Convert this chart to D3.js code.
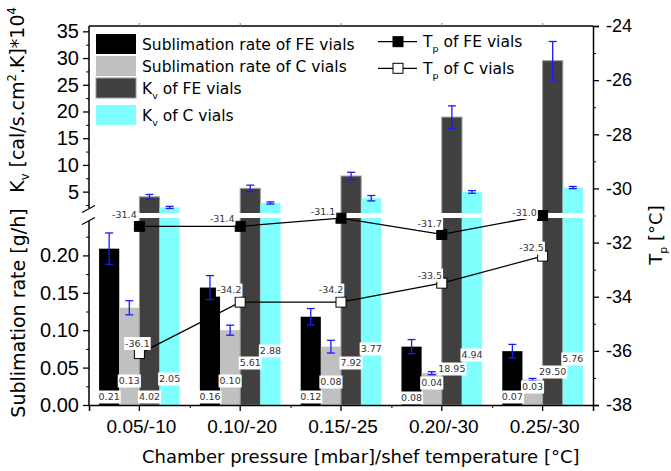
<!DOCTYPE html>
<html>
<head>
<meta charset="utf-8">
<script src="https://cdn.jsdelivr.net/npm/d3@7/dist/d3.min.js"></script>
<style>
  body { margin: 0; background: #fff; }
  svg { font-family: "DejaVu Sans", Verdana, sans-serif; display: block; }
</style>
</head>
<body>
<div id="chart"></div>
<script>
// chart data
var categories = ["0.05/-10", "0.10/-20", "0.15/-25", "0.20/-30", "0.25/-30"];

var rateFE    = [0.209, 0.157, 0.118, 0.078, 0.072];
var rateFEErr = [0.021, 0.016, 0.011, 0.0095, 0.009];
var rateC     = [0.130, 0.100, 0.078, 0.0425, 0.034];
var rateCErr  = [0.0094, 0.0067, 0.0085, 0.002, 0.0015];

var kvFE    = [4.02, 5.61, 7.92, 18.95, 29.50];
var kvFEErr = [0.45, 0.6, 0.7, 2.1, 3.6];
var kvC     = [2.05, 2.88, 3.77, 4.94, 5.76];
var kvCErr  = [0.2, 0.2, 0.5, 0.25, 0.2];

var tpFE = [-31.4, -31.4, -31.1, -31.7, -31.0];
var tpC  = [-36.1, -34.2, -34.2, -33.5, -32.5];

var kvTicks = [5, 10, 15, 20, 25, 30, 35];
var rateTicks = [0, 0.05, 0.10, 0.15, 0.20];
var tpTicks = [-38, -36, -34, -32, -30, -28, -26, -24];

// layout
var width = 671, height = 471,
    plot = {left: 89, right: 593, top: 26, bottom: 405},
    brk = {upper: 213, lower: 218};

// where the value labels sit (px above the x axis), placed by hand in the original
var labelLift = {
    rateFE: [8, 8, 8, 7, 8],
    rateC: [24, 24, 23, 22, 18],
    kvFE: [8, 42, 42, 36, 33],
    kvC: [26, 54, 56, 50, 46]
};
// Tp label centre relative to its marker
var tpFEShift = [[-15, -12], [-18, -8], [-18, -7], [-12, -11], [-18, -3]];
var tpCShift  = [[-2, -10], [-11, -12], [-10, -12], [-12, -8], [-11, -8]];

// plain hyphen instead of the unicode minus d3 puts in
function hyphen(f) {
    return function(d) { return f(d).replace("\u2212", "-"); };
}

var svg = d3.select("#chart").append("svg")
    .attr("width", width)
    .attr("height", height);

// scales
var x = d3.scaleBand().domain(categories).range([plot.left, plot.right]);
var bw = x.bandwidth();
var xs = d3.scaleBand()
    .domain(["rateFE", "rateC", "kvFE", "kvC"])
    .range([0.1 * bw, 0.9 * bw]);
var xMinor = d3.scaleLinear().domain([0, categories.length]).range([plot.left, plot.right]);

var yKv = d3.scaleLinear().domain([1, 36]).range([brk.upper, plot.top]);
var yRate = d3.scaleLinear().domain([0, 0.25]).range([plot.bottom, brk.lower]);
var yT = d3.scaleLinear().domain([-38, -24]).range([plot.bottom, plot.top]);

var series = [
    {key: "rateFE", vals: rateFE, err: rateFEErr, color: "#000000", y: yRate},
    {key: "rateC", vals: rateC, err: rateCErr, color: "#c0c0c0", y: yRate},
    {key: "kvFE", vals: kvFE, err: kvFEErr, color: "#404040", y: yKv, stroke: "#9a9a9a"},
    {key: "kvC", vals: kvC, err: kvCErr, color: "#80ffff", y: yKv}
];

// bars
var barG = svg.append("g");
series.forEach(function(s) {
    barG.selectAll(null)
        .data(s.vals)
        .enter()
        .append("rect")
        .attr("x", (d, i) => x(categories[i]) + xs(s.key))
        .attr("width", xs.bandwidth())
        .attr("y", d => s.y(d))
        .attr("height", d => plot.bottom - s.y(d))
        .attr("fill", s.color)
        .attr("stroke", s.stroke || "none")
        .attr("stroke-width", 1);
});

// white gap where the left axis is broken
svg.append("rect")
    .attr("x", plot.left + 1)
    .attr("width", plot.right - plot.left - 2)
    .attr("y", brk.upper)
    .attr("height", brk.lower - brk.upper)
    .attr("fill", "#fff");

// error bars
var errG = svg.append("g").attr("stroke", "#1a1aff").attr("stroke-width", 1.3);
series.forEach(function(s) {
    s.vals.forEach(function(v, i) {
        var cx = x(categories[i]) + xs(s.key) + xs.bandwidth() / 2,
            y1 = s.y(v + s.err[i]),
            y2 = s.y(v - s.err[i]);
        errG.append("line").attr("x1", cx).attr("x2", cx).attr("y1", y1).attr("y2", y2);
        errG.append("line").attr("x1", cx - 4).attr("x2", cx + 4).attr("y1", y1).attr("y2", y1);
        errG.append("line").attr("x1", cx - 4).attr("x2", cx + 4).attr("y1", y2).attr("y2", y2);
    });
});

// value labels with white boxes
function boxedLabel(g, tx, ty, str) {
    var grp = g.append("g");
    var rect = grp.append("rect").attr("fill", "#fff");
    var t = grp.append("text")
        .attr("x", tx)
        .attr("y", ty)
        .attr("dy", "0.35em")
        .attr("text-anchor", "middle")
        .attr("font-size", 9.5)
        .attr("fill", "#333")
        .text(str);
    var b = t.node().getBBox();
    rect.attr("x", b.x - 1).attr("y", ty - 6.5).attr("width", b.width + 2).attr("height", 13);
}

var labG = svg.append("g");
series.forEach(function(s) {
    s.vals.forEach(function(v, i) {
        var cx = x(categories[i]) + xs(s.key) + xs.bandwidth() / 2;
        boxedLabel(labG, cx, plot.bottom - labelLift[s.key][i], d3.format(".2f")(v));
    });
});

// Tp lines
var line = d3.line()
    .x((d, i) => x(categories[i]) + bw / 2)
    .y(d => yT(d));

[{vals: tpFE, fill: "#000", shift: tpFEShift}, {vals: tpC, fill: "#fff", shift: tpCShift}].forEach(function(s) {
    svg.append("path")
        .attr("d", line(s.vals))
        .attr("fill", "none")
        .attr("stroke", "#000")
        .attr("stroke-width", 1.3);
    svg.selectAll(null)
        .data(s.vals)
        .enter()
        .append("rect")
        .attr("x", (d, i) => x(categories[i]) + bw / 2 - 5)
        .attr("y", d => yT(d) - 5)
        .attr("width", 10)
        .attr("height", 10)
        .attr("fill", s.fill)
        .attr("stroke", "#000")
        .attr("stroke-width", 1);
    s.vals.forEach(function(v, i) {
        var cx = x(categories[i]) + bw / 2;
        boxedLabel(svg, cx + s.shift[i][0], yT(v) + s.shift[i][1], hyphen(d3.format(".1f"))(v));
    });
});

// axes
var fontSize = 18;

// frame top
svg.append("line")
    .attr("x1", plot.left).attr("x2", plot.right)
    .attr("y1", plot.top).attr("y2", plot.top)
    .attr("stroke", "#000").attr("stroke-width", 1.3);

svg.append("g")
    .attr("transform", "translate(0," + plot.bottom + ")")
    .call(d3.axisBottom(x).tickSize(6).tickPadding(9))
    .call(g => g.select(".domain").attr("stroke-width", 1.5))
    .call(g => g.selectAll("line").attr("stroke-width", 1.3))
    .call(g => g.selectAll("text").attr("font-size", 19).attr("font-family", null).attr("dx", 2));

svg.append("g")
    .attr("transform", "translate(0," + plot.bottom + ")")
    .call(d3.axisBottom(xMinor).tickValues([1, 2, 3, 4]).tickSize(3).tickFormat(""))
    .call(g => g.select(".domain").remove());

// small marks on the top edge
svg.append("g")
    .attr("transform", "translate(0," + plot.top + ")")
    .call(d3.axisTop(x).tickSize(3).tickFormat(""))
    .call(g => g.select(".domain").remove())
    .call(g => g.selectAll("line").attr("stroke", "#777"));

// left axis, upper part (Kv)
svg.append("g")
    .attr("transform", "translate(" + plot.left + ",0)")
    .call(d3.axisLeft(yKv).tickValues(kvTicks).tickSize(6).tickPadding(4))
    .call(g => g.select(".domain").remove())
    .call(g => g.selectAll("line").attr("stroke-width", 1.3))
    .call(g => g.selectAll("text").attr("font-size", 20).attr("font-family", null));
svg.append("g")
    .attr("transform", "translate(" + plot.left + ",0)")
    .call(d3.axisLeft(yKv).tickValues([2.5, 7.5, 12.5, 17.5, 22.5, 27.5, 32.5]).tickSize(3).tickFormat(""))
    .call(g => g.select(".domain").remove());

// left axis, lower part (sublimation rate)
svg.append("g")
    .attr("transform", "translate(" + plot.left + ",0)")
    .call(d3.axisLeft(yRate).tickValues(rateTicks).tickSize(6).tickPadding(4).tickFormat(d3.format(".2f")))
    .call(g => g.select(".domain").remove())
    .call(g => g.selectAll("line").attr("stroke-width", 1.3))
    .call(g => g.selectAll("text").attr("font-size", 20).attr("font-family", null));
svg.append("g")
    .attr("transform", "translate(" + plot.left + ",0)")
    .call(d3.axisLeft(yRate).tickValues([0.025, 0.075, 0.125, 0.175, 0.225]).tickSize(3).tickFormat(""))
    .call(g => g.select(".domain").remove());

// left axis line with the break marks
svg.append("line")
    .attr("x1", plot.left).attr("x2", plot.left)
    .attr("y1", plot.top).attr("y2", brk.upper - 5)
    .attr("stroke", "#000").attr("stroke-width", 1.5);
svg.append("line")
    .attr("x1", plot.left).attr("x2", plot.left)
    .attr("y1", brk.lower + 3).attr("y2", plot.bottom)
    .attr("stroke", "#000").attr("stroke-width", 1.5);
[brk.upper - 4, brk.lower + 3].forEach(function(yy) {
    svg.append("line")
        .attr("x1", plot.left - 7).attr("x2", plot.left + 6)
        .attr("y1", yy + 3.5).attr("y2", yy - 3.5)
        .attr("stroke", "#000").attr("stroke-width", 1.2);
});

// right axis (Tp)
svg.append("g")
    .attr("transform", "translate(" + plot.right + ",0)")
    .call(d3.axisRight(yT).tickValues(tpTicks).tickSize(6).tickPadding(7).tickFormat(hyphen(d3.format("d"))))
    .call(g => g.select(".domain").attr("stroke-width", 1.5))
    .call(g => g.selectAll("line").attr("stroke-width", 1.3))
    .call(g => g.selectAll("text").attr("font-size", fontSize).attr("font-family", null));
svg.append("g")
    .attr("transform", "translate(" + plot.right + ",0)")
    .call(d3.axisRight(yT).tickValues([-37, -35, -33, -31, -29, -27, -25]).tickSize(3).tickFormat(""))
    .call(g => g.select(".domain").remove());

// axis titles
var kvTitle = svg.append("text")
    .attr("transform", "translate(24,100) rotate(-90)")
    .attr("text-anchor", "middle")
    .attr("font-size", 19);
kvTitle.append("tspan").text("K");
kvTitle.append("tspan").attr("font-size", 11.5).attr("dy", 5).text("v");
kvTitle.append("tspan").attr("dy", -5).text(" [cal/s.cm");
kvTitle.append("tspan").attr("font-size", 11.5).attr("dy", -8).text("2");
kvTitle.append("tspan").attr("dy", 8).text(".K]*10");
kvTitle.append("tspan").attr("font-size", 11.5).attr("dy", -8).text("4");

svg.append("text")
    .attr("transform", "translate(25,313) rotate(-90)")
    .attr("text-anchor", "middle")
    .attr("font-size", 19)
    .text("Sublimation rate [g/h]");

var tTitle = svg.append("text")
    .attr("transform", "translate(662,235) rotate(-90)")
    .attr("text-anchor", "middle")
    .attr("font-size", fontSize);
tTitle.append("tspan").text("T");
tTitle.append("tspan").attr("font-size", 11).attr("dy", 5).text("p");
tTitle.append("tspan").attr("dy", -5).text(" [\u00b0C]");

svg.append("text")
    .attr("x", 142)
    .attr("y", 463)
    .attr("font-size", fontSize)
    .text("Chamber pressure [mbar]/shef temperature [\u00b0C]");

// legend for the bars
var legendBars = [
    {color: "#000000", main: "Sublimation rate of FE vials", y: 44},
    {color: "#c0c0c0", main: "Sublimation rate of C vials", y: 66},
    {color: "#404040", main: "K", sub: "v", rest: " of FE vials", y: 88},
    {color: "#80ffff", main: "K", sub: "v", rest: " of C vials", y: 115}
];
legendBars.forEach(function(l) {
    svg.append("rect")
        .attr("x", 96).attr("y", l.y - 10)
        .attr("width", 40).attr("height", 20)
        .attr("fill", l.color)
        .attr("stroke", l.color === "#404040" ? "#9a9a9a" : "none");
    var t = svg.append("text")
        .attr("x", 142).attr("y", l.y + 5.5)
        .attr("font-size", 15.5);
    t.append("tspan").text(l.main);
    if (l.sub) {
        t.append("tspan").attr("font-size", 9.5).attr("dy", 5).text(l.sub);
        t.append("tspan").attr("dy", -5).text(l.rest);
    }
});

// legend for the Tp lines
[{fill: "#000", rest: "  of FE vials", y: 41.7}, {fill: "#fff", rest: " of C vials", y: 68.3}].forEach(function(l) {
    svg.append("line")
        .attr("x1", 378).attr("x2", 417)
        .attr("y1", l.y).attr("y2", l.y)
        .attr("stroke", "#000").attr("stroke-width", 1.3);
    svg.append("rect")
        .attr("x", 393).attr("y", l.y - 5)
        .attr("width", 10).attr("height", 10)
        .attr("fill", l.fill).attr("stroke", "#000");
    var t = svg.append("text")
        .attr("x", 423).attr("y", l.y + 5.5)
        .attr("font-size", 15.5);
    t.append("tspan").text("T");
    t.append("tspan").attr("font-size", 9.5).attr("dy", 5).text("p");
    t.append("tspan").attr("dy", -5).text(l.rest);
});
</script>
</body>
</html>
